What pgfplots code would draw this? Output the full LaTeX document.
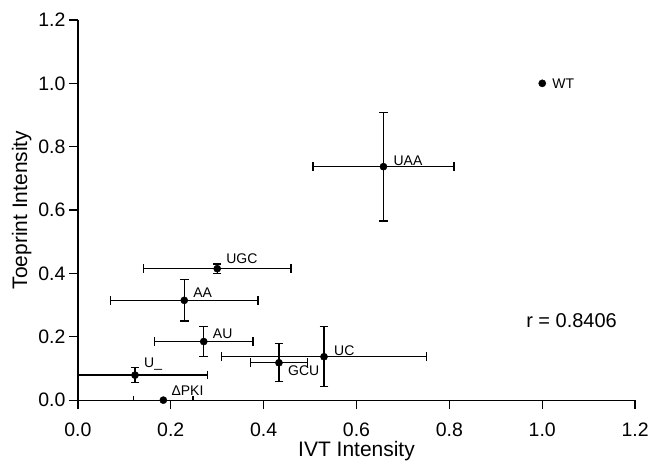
\documentclass[border=0pt]{standalone}
\usepackage{pgfplots}
\pgfplotsset{compat=1.18}
\usepackage{pgfplotstable}
\usepackage{fontspec}
\setmainfont{Liberation Sans}
\usetikzlibrary{calc}

% mutants: position, error and label offset (pt)
\pgfplotstableread{
x     y     ex    ey    dx  dy   label
0.658 0.737 0.152 0.172 10  6    UAA
0.300 0.415 0.159 0.015 9   9.5  UGC
0.229 0.315 0.159 0.065 9   8    AA
0.271 0.185 0.106 0.048 9   8    AU
0.530 0.137 0.220 0.095 10  6    UC
0.433 0.118 0.061 0.060 9   -8   GCU
0.123 0.079 0.156 0.023 9   11.5 U\_
0.184 0.000 0.064 0.000 8   9    ΔPKI
1.000 1.000 0.000 0.000 10  0    WT
}\mutants

\begin{document}
\begin{tikzpicture}
\begin{axis}[
    scale only axis, width=558pt, height=380.7pt,
    xmin=0, xmax=1.2, ymin=0, ymax=1.2,
    axis lines*=left,
    axis line style={line width=1.3pt},
    xtick={0,0.2,0.4,0.6,0.8,1.0,1.2},
    ytick={0,0.2,0.4,0.6,0.8,1.0,1.2},
    tick align=outside, major tick length=9pt,
    tick style={line width=1.3pt, black},
    /pgf/number format/assume math mode=true,
    /pgf/number format/fixed, /pgf/number format/fixed zerofill,
    /pgf/number format/precision=1,
    ticklabel style={font=\fontsize{19.5}{19.5}\selectfont},
    xticklabel style={yshift=-10pt},
    label style={font=\fontsize{21}{21}\selectfont},
    xlabel style={yshift=2pt},
    xlabel={IVT Intensity}, ylabel={Toeprint Intensity},
]
% points with error bars (WT has none)
\addplot[only marks, mark=*, mark size=3.6pt, black,
    restrict expr to domain={\thisrow{ex}+\thisrow{ey}}{0.001:10},
    error bars/.cd, x dir=both, x explicit, y dir=both, y explicit,
    error bar style={line width=1.3pt, black},
    error mark=|,
    error mark options={mark size=4.3pt, line width=1.3pt, black}]
    table[x=x, y=y, x error=ex, y error=ey] {\mutants};
\addplot[only marks, mark=*, mark size=3.6pt, black,
    restrict expr to domain={\thisrow{ex}+\thisrow{ey}}{-1:0.001}]
    table[x=x, y=y] {\mutants};
% labels
\addplot[only marks, mark=none,
    point meta=explicit symbolic,
    visualization depends on={\thisrow{dx}\as\dx},
    visualization depends on={\thisrow{dy}\as\dy},
    nodes near coords,
    every node near coord/.append style={anchor=west, inner sep=0pt,
        xshift=\dx pt, yshift=\dy pt, font=\fontsize{14}{14}\selectfont, black}]
    table[x=x, y=y, meta=label] {\mutants};
\node[font=\fontsize{20}{20}\selectfont] at (axis cs:1.063,0.251) {r = 0.8406};
\end{axis}
\path ($(current axis.south west)+(-78pt,-67.3pt)$) rectangle ($(current axis.north east)+(16pt,20pt)$);
\end{tikzpicture}
\end{document}
